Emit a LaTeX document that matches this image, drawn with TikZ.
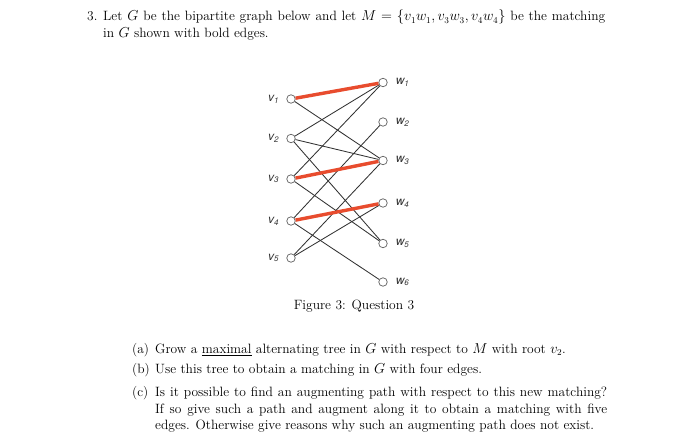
\documentclass[tikz,border=0pt]{standalone}
\usepackage{amsmath}
\usepackage{fontspec}
\newfontfamily\labelfont{TeX Gyre Heros}
\usetikzlibrary{positioning}

\definecolor{matchred}{RGB}{232,76,46}
\definecolor{edgegray}{RGB}{50,50,50}
\definecolor{ringgray}{RGB}{105,105,105}

\tikzset{
  vert/.style={circle, draw=ringgray, fill=white, line width=0.75pt, inner sep=0pt, minimum size=8.5pt},
  vlbl/.style={font=\labelfont\itshape\fontsize{12}{14}\selectfont, text=black!80, inner sep=0pt},
  edge/.style={draw=edgegray, line width=0.85pt},
  matched/.style={draw=matchred, line width=3.4pt},
  body/.style={font=\fontsize{13.5}{16.5}\selectfont, inner sep=0pt, align=justify}
}

\begin{document}
\begin{tikzpicture}[x=1pt, y=-1pt]
  \useasboundingbox (0,0) rectangle (700,446);

  % Question text
  \node[body, anchor=base west] (num) at (87,21) {3.};
  \node[body, anchor=base west, text width=502pt] (intro) at (103,21)
    {Let $G$ be the bipartite graph below and let $M=\{v_1w_1,v_3w_3,v_4w_4\}$ be the matching\linebreak
     in $G$ shown with bold edges.};

  % Define nodes
  \node[vert] (v1) at (291,99) {};
  \node[vert] (v2) at (291,138.5) {};
  \node[vert] (v3) at (291,179) {};
  \node[vert] (v4) at (291,221) {};
  \node[vert] (v5) at (291,258) {};
  \node[vert] (w1) at (383,82.5) {};
  \node[vert] (w2) at (383,122) {};
  \node[vert] (w3) at (383,160.5) {};
  \node[vert] (w4) at (383,203) {};
  \node[vert] (w5) at (383,243.5) {};
  \node[vert] (w6) at (383,282) {};

  % Labels
  \node[vlbl, left=7pt of v1] (lv1) {v\textsubscript{1}};
  \node[vlbl, left=7pt of v2] (lv2) {v\textsubscript{2}};
  \node[vlbl, left=7pt of v3] (lv3) {v\textsubscript{3}};
  \node[vlbl, left=7pt of v4] (lv4) {v\textsubscript{4}};
  \node[vlbl, left=7pt of v5] (lv5) {v\textsubscript{5}};
  \node[vlbl, right=8pt of w1] (lw1) {w\textsubscript{1}};
  \node[vlbl, right=8pt of w2] (lw2) {w\textsubscript{2}};
  \node[vlbl, right=8pt of w3] (lw3) {w\textsubscript{3}};
  \node[vlbl, right=8pt of w4] (lw4) {w\textsubscript{4}};
  \node[vlbl, right=8pt of w5] (lw5) {w\textsubscript{5}};
  \node[vlbl, right=8pt of w6] (lw6) {w\textsubscript{6}};

  % Connect the nodes
  \draw[edge] (v1) -- (w3);
  \draw[edge] (v2) -- (w1);
  \draw[edge] (v2) -- (w3);
  \draw[edge] (v2) -- (w5);
  \draw[edge] (v3) -- (w1);
  \draw[edge] (v3) -- (w5);
  \draw[edge] (v4) -- (w2);
  \draw[edge] (v4) -- (w6);
  \draw[edge] (v5) -- (w3);
  \draw[edge] (v5) -- (w4);

  % Matching M
  \draw[matched] (v1) -- (w1);
  \draw[matched] (v3) -- (w3);
  \draw[matched] (v4) -- (w4);

  % Caption
  \node[body, anchor=base] (cap) at (354,309) {Figure 3: Question 3};

  % Parts
  \node[body, anchor=base west] (la) at (132,353) {(a)};
  \node[body, anchor=base west, text width=452pt] (pa) at (155,353)
    {Grow a \underline{maximal} alternating tree in $G$ with respect to $M$ with root $v_2$.};
  \node[body, anchor=base west] (lb) at (132,373.5) {(b)};
  \node[body, anchor=base west, text width=452pt] (pb) at (155,373.5)
    {Use this tree to obtain a matching in $G$ with four edges.};
  \node[body, anchor=base west] (lc) at (132,396.5) {(c)};
  \node[body, anchor=base west, text width=452pt] (pc) at (155,396.5)
    {Is it possible to find an augmenting path with respect to this new matching?\linebreak
     If so give such a path and augment along it to obtain a matching with five\linebreak
     edges. Otherwise give reasons why such an augmenting path does not exist.};
\end{tikzpicture}
\end{document}
